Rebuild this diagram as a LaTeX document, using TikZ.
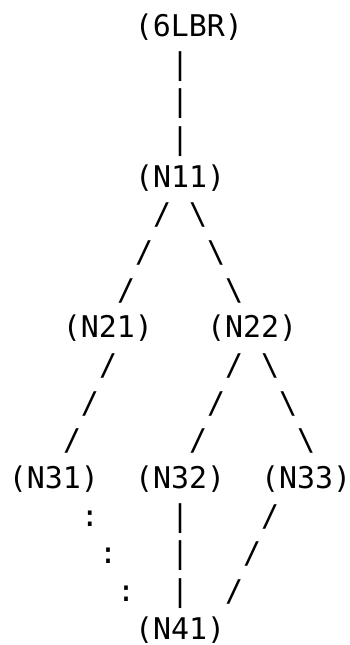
\documentclass[tikz,border=0pt]{standalone}
\usepackage{fontspec}
\newfontfamily\treefont{DejaVu Sans Mono}
\begin{document}
\begin{tikzpicture}[
    x=9pt, y=-18.84pt,
    txt/.style={font=\treefont\fontsize{14.95pt}{18pt}\selectfont, inner sep=0pt, text height=11.36pt, text depth=1.94pt}
]
    \useasboundingbox (-1,-0.7166) rectangle (18.389,16.401);

    \node[txt] (lbr) at (9.5,0) {(6LBR)};
    \node[txt] (n11) at (9,4) {(N11)};
    \node[txt] (n21) at (5,8) {(N21)};
    \node[txt] (n22) at (13,8) {(N22)};
    \node[txt] (n31) at (2,12) {(N31)};
    \node[txt] (n32) at (9,12) {(N32)};
    \node[txt] (n33) at (16,12) {(N33)};
    \node[txt] (n41) at (9,16) {(N41)};

    % links, one character per cell
    \foreach \c/\r [count=\i] in {9/1,9/2,9/3,9/13,9/14,9/15}
        \node[txt] (bar\i) at (\c,\r) {|};
    \foreach \c/\r [count=\i] in {8/5,7/6,6/7,5/9,4/10,3/11,12/9,11/10,10/11,14/13,13/14,12/15}
        \node[txt] (fwd\i) at (\c,\r) {/};
    \foreach \c/\r [count=\i] in {10/5,11/6,12/7,14/9,15/10,16/11}
        \node[txt] (bck\i) at (\c,\r) {\textbackslash};
    \foreach \c/\r [count=\i] in {4/13,5/14,6/15}
        \node[txt] (dot\i) at (\c,\r) {:};
\end{tikzpicture}
\end{document}
